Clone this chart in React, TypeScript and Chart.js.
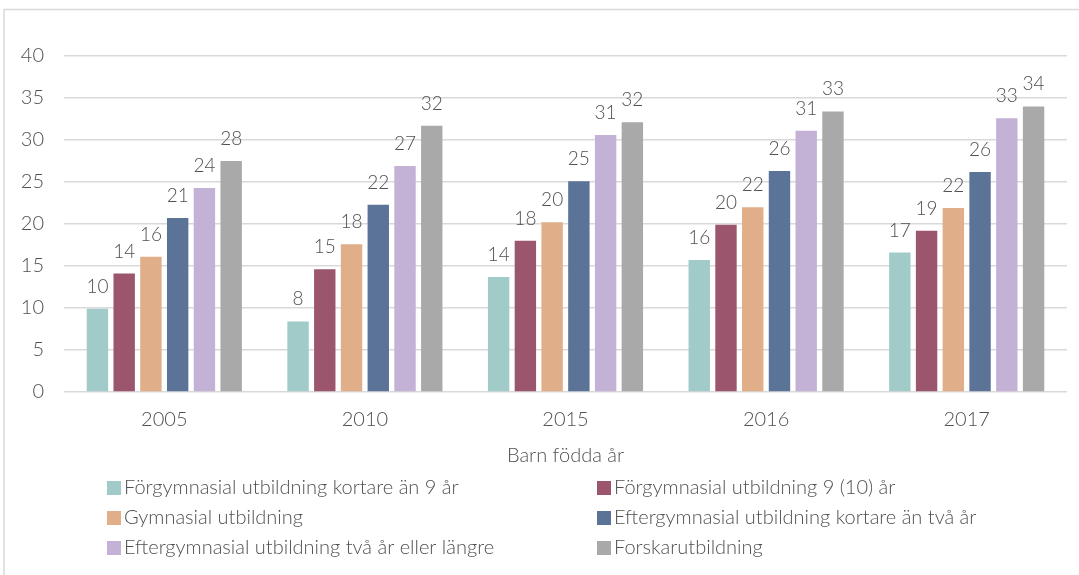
import { useEffect, useRef } from "react";
import { Chart, registerables } from "chart.js";

Chart.register(...registerables);

const categories = ["2005", "2010", "2015", "2016", "2017"];
const seriesNames = [
  "Förgymnasial utbildning kortare än 9 år",
  "Förgymnasial utbildning 9 (10) år",
  "Gymnasial utbildning",
  "Eftergymnasial utbildning kortare än två år",
  "Eftergymnasial utbildning två år eller längre",
  "Forskarutbildning",
];
const forgymKort = [9.9, 8.4, 13.7, 15.7, 16.6];
const forgym9 = [14.1, 14.6, 18.0, 19.9, 19.2];
const gymnasial = [16.1, 17.6, 20.2, 22.0, 21.9];
const efterKort = [20.7, 22.3, 25.1, 26.3, 26.2];
const efterLang = [24.3, 26.9, 30.6, 31.1, 32.6];
const forskar = [27.5, 31.7, 32.1, 33.4, 34.0];
const seriesValues = [forgymKort, forgym9, gymnasial, efterKort, efterLang, forskar];
const colors = ["#A0CBC8", "#9B566D", "#E0AE88", "#5B7397", "#C3B1D6", "#A9A9A9"];
const xTitle = "Barn födda år";

const FONT = "Lato, 'Open Sans', sans-serif";
const TEXT = "#505050";

const dataLabels = {
  id: "dataLabels",
  afterDatasetsDraw(chart: any) {
    const ctx = chart.ctx;
    ctx.save();
    ctx.font = `300 19px ${FONT}`;
    ctx.fillStyle = TEXT;
    ctx.textAlign = "center";
    ctx.textBaseline = "alphabetic";
    chart.data.datasets.forEach((ds: any, i: number) => {
      const meta = chart.getDatasetMeta(i);
      meta.data.forEach((bar: any, j: number) => {
        ctx.fillText(String(Math.round(ds.data[j])), bar.x, bar.y - 16);
      });
    });
    ctx.restore();
  },
};

const frameAndLegend = {
  id: "frameAndLegend",
  afterDraw(chart: any) {
    const ctx = chart.ctx;
    ctx.save();
    ctx.strokeStyle = "#d9d9d9";
    ctx.lineWidth = 1.5;
    ctx.beginPath();
    ctx.moveTo(4, 575);
    ctx.lineTo(4, 9.5);
    ctx.lineTo(1079, 9.5);
    ctx.stroke();

    ctx.font = `300 20px ${FONT}`;
    ctx.textAlign = "left";
    ctx.textBaseline = "middle";
    const colX = [107, 597];
    const rowY = [488, 518, 548];
    chart.data.datasets.forEach((ds: any, i: number) => {
      const x = colX[i % 2];
      const y = rowY[Math.floor(i / 2)];
      ctx.fillStyle = ds.backgroundColor;
      ctx.fillRect(x, y - 7, 14, 14);
      ctx.fillStyle = TEXT;
      ctx.fillText(ds.label, x + 17, y);
    });
    ctx.restore();
  },
};

export default function App() {
  const ref = useRef<HTMLCanvasElement>(null);
  useEffect(() => {
    document.body.style.margin = "0";
    const chart = new Chart(ref.current!, {
      type: "bar",
      data: {
        labels: categories,
        datasets: seriesValues.map((vals, i) => ({
          label: seriesNames[i],
          data: vals,
          backgroundColor: colors[i],
          borderWidth: 0,
          categoryPercentage: 0.8,
          barPercentage: 0.8,
        })),
      },
      options: {
        responsive: false,
        animation: false,
        devicePixelRatio: 1,
        layout: { padding: { top: 56, right: 12, left: 0, bottom: 0 } },
        plugins: {
          legend: { display: false },
          tooltip: { enabled: false },
        },
        scales: {
          x: {
            grid: { display: false, drawTicks: false },
            border: { display: false },
            ticks: { color: TEXT, font: { family: FONT, size: 20, weight: "300" }, padding: 16 },
            title: {
              display: true,
              text: xTitle,
              color: TEXT,
              font: { family: FONT, size: 20, weight: "300" },
              padding: { top: 0, bottom: 107 },
            },
            afterFit(scale: any) {
              scale.height = 575 - 392;
            },
          },
          y: {
            min: 0,
            max: 40,
            ticks: { stepSize: 5, color: TEXT, font: { family: FONT, size: 20, weight: "300" }, padding: 20 },
            grid: { color: "#d9d9d9", lineWidth: 1.5, drawTicks: false },
            border: { display: false },
            afterFit(scale: any) {
              scale.width = 64;
            },
          },
        },
      },
      plugins: [dataLabels, frameAndLegend],
    });
    return () => chart.destroy();
  }, []);
  return (
    <div style={{ position: "fixed", left: 0, top: 0, width: 1079, height: 575, background: "#fff" }}>
      <canvas ref={ref} width={1079} height={575} />
    </div>
  );
}
